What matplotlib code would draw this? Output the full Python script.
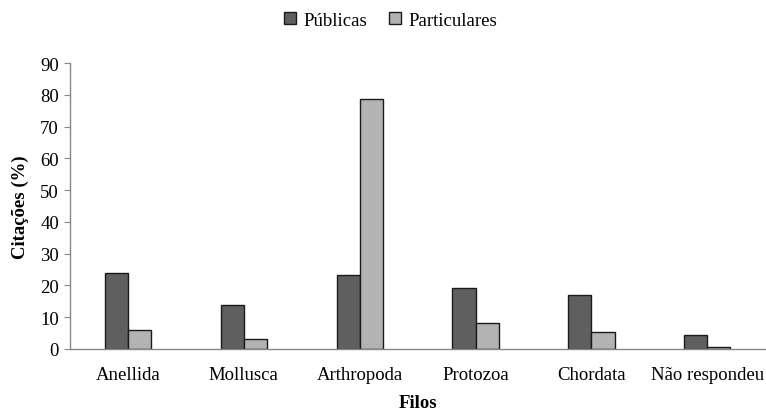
import numpy as np
import matplotlib
matplotlib.use("Agg")
import matplotlib.pyplot as plt

plt.rcParams['font.family'] = ['Liberation Serif', 'DejaVu Serif']

# filos citados e percentuais por tipo de escola
filos = ['Anellida', 'Mollusca', 'Arthropoda', 'Protozoa', 'Chordata', 'Não respondeu']
publicas = [24.0, 13.7, 23.3, 19.2, 17.1, 4.5]
particulares = [6.0, 3.0, 78.7, 8.1, 5.2, 0.6]

fig = plt.figure(figsize=(7.66, 4.14), dpi=100)
ax = fig.add_axes([0.0914, 0.1546, 0.9076, 0.6905])

x = np.arange(len(filos))
w = 0.2
ax.bar(x - w / 2, publicas, w, color='#5f5f5f', edgecolor='#1a1a1a', linewidth=1.0, label='Públicas')
ax.bar(x + w / 2, particulares, w, color='#b3b3b3', edgecolor='#1a1a1a', linewidth=1.0, label='Particulares')

ax.set_xlim(-0.5, len(filos) - 0.5)
ax.set_ylim(0, 90)
ax.set_yticks(range(0, 91, 10))
ax.set_xticks(x)
ax.set_xticklabels(filos, fontsize=13.5)
ax.tick_params(axis='y', labelsize=13.5, length=4, color='#888888', pad=4)
ax.tick_params(axis='x', length=0, pad=12)

for s in ['top', 'right']:
    ax.spines[s].set_visible(False)
for s in ['left', 'bottom']:
    ax.spines[s].set_color('#888888')
    ax.spines[s].set_linewidth(1.0)

ax.set_ylabel('Citações (%)', fontsize=13.5, fontweight='bold', labelpad=8)
ax.set_xlabel('Filos', fontsize=13.5, fontweight='bold', labelpad=8)

fig.legend(loc='upper center', bbox_to_anchor=(0.51, 1.01), ncol=2, frameon=False,
           fontsize=13.5, handlelength=0.6, handleheight=0.6, handletextpad=0.4, columnspacing=1.2)

fig.savefig('out.png', dpi=100)
